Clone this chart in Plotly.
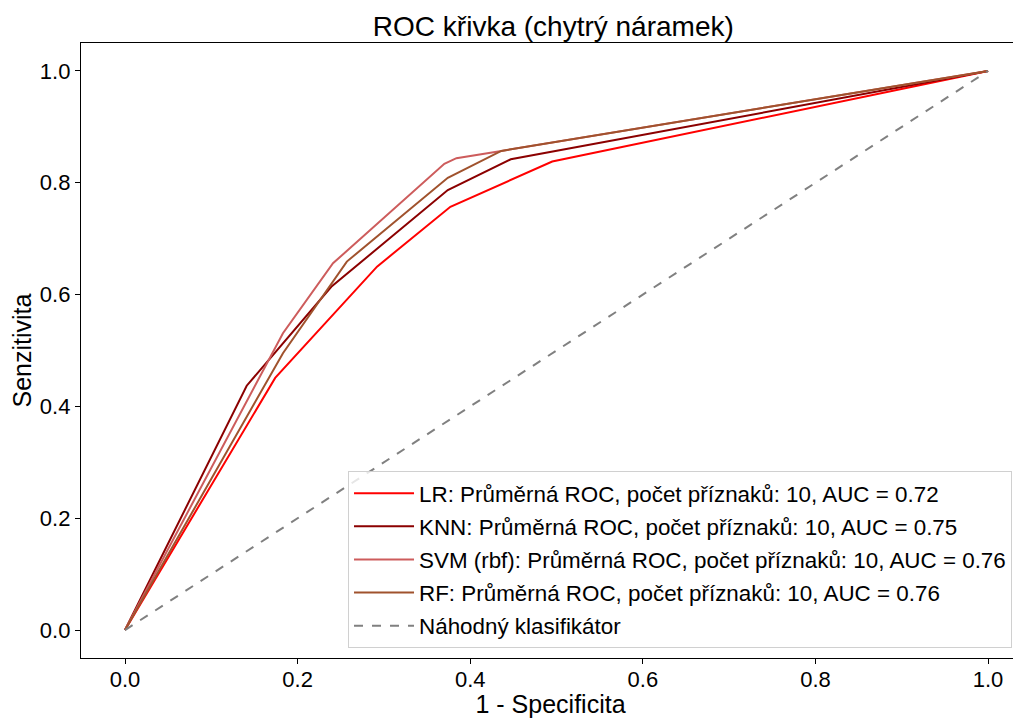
import plotly.graph_objects as go

# averaged ROC curves (FPR, TPR)
lr_fpr = [0.0, 0.174, 0.292, 0.377, 0.495, 1.0]
lr_tpr = [0.0, 0.451, 0.650, 0.757, 0.838, 1.0]

knn_fpr = [0.0, 0.141, 0.239, 0.374, 0.447, 1.0]
knn_tpr = [0.0, 0.437, 0.614, 0.787, 0.842, 1.0]

svm_fpr = [0.0, 0.183, 0.241, 0.370, 0.384, 0.436, 1.0]
svm_tpr = [0.0, 0.531, 0.656, 0.834, 0.844, 0.857, 1.0]

rf_fpr = [0.0, 0.183, 0.257, 0.374, 0.436, 1.0]
rf_tpr = [0.0, 0.495, 0.659, 0.809, 0.857, 1.0]

chance = [0.0, 1.0]

models = ['LR', 'KNN', 'SVM (rbf)', 'RF']
auc = [0.72, 0.75, 0.76, 0.76]
colors = ['red', 'darkred', 'indianred', 'sienna']
n_features = 10

fig = go.Figure()

curves = [(lr_fpr, lr_tpr), (knn_fpr, knn_tpr), (svm_fpr, svm_tpr), (rf_fpr, rf_tpr)]
for (fpr, tpr), name, a, c in zip(curves, models, auc, colors):
    fig.add_trace(go.Scatter(
        x=fpr, y=tpr, mode='lines',
        name=f'{name}: Průměrná ROC, počet příznaků: {n_features}, AUC = {a:.2f}',
        legendgroup=name,
        line=dict(color=c, width=2)
    ))

fig.add_trace(go.Scatter(
    x=chance, y=chance, mode='lines',
    name='Náhodný klasifikátor',
    legendgroup='chance',
    line=dict(color='gray', width=2, dash='dash')
))

axis_style = dict(
    showgrid=False, zeroline=False, automargin=False,
    showline=True, linecolor='black', linewidth=1.3, mirror=True,
    ticks='outside', ticklen=5, tickcolor='black', tickwidth=1.2,
    tickfont=dict(size=22, color='black'),
    tickformat='.1f', dtick=0.2,
)

# the page body has an 8px margin, so the figure is 8px smaller than the window
fig.update_layout(
    width=1013, height=710,
    paper_bgcolor='white', plot_bgcolor='white',
    font=dict(family='Liberation Sans, Arial, sans-serif', color='black'),
    margin=dict(l=73, r=1, t=35, b=60),
    title=dict(text='ROC křivka (chytrý náramek)', xref='paper', x=0.503, xanchor='center',
               yref='container', y=0.975, yanchor='middle', font=dict(size=28)),
    xaxis=dict(axis_style, range=[-0.051, 1.037], ticklabelstandoff=-4,
               title=dict(text='1 - Specificita', font=dict(size=25), standoff=8)),
    yaxis=dict(axis_style, range=[-0.05, 1.05],
               title=dict(text='Senzitivita', font=dict(size=25), standoff=4)),
    legend=dict(
        x=0.9915, y=0.016, xanchor='right', yanchor='bottom',
        bgcolor='rgba(255,255,255,0.8)', bordercolor='#d0d0d0', borderwidth=1,
        font=dict(size=22.4), itemwidth=60, tracegroupgap=1
    ),
    showlegend=True
)

fig.write_html('out.html')
